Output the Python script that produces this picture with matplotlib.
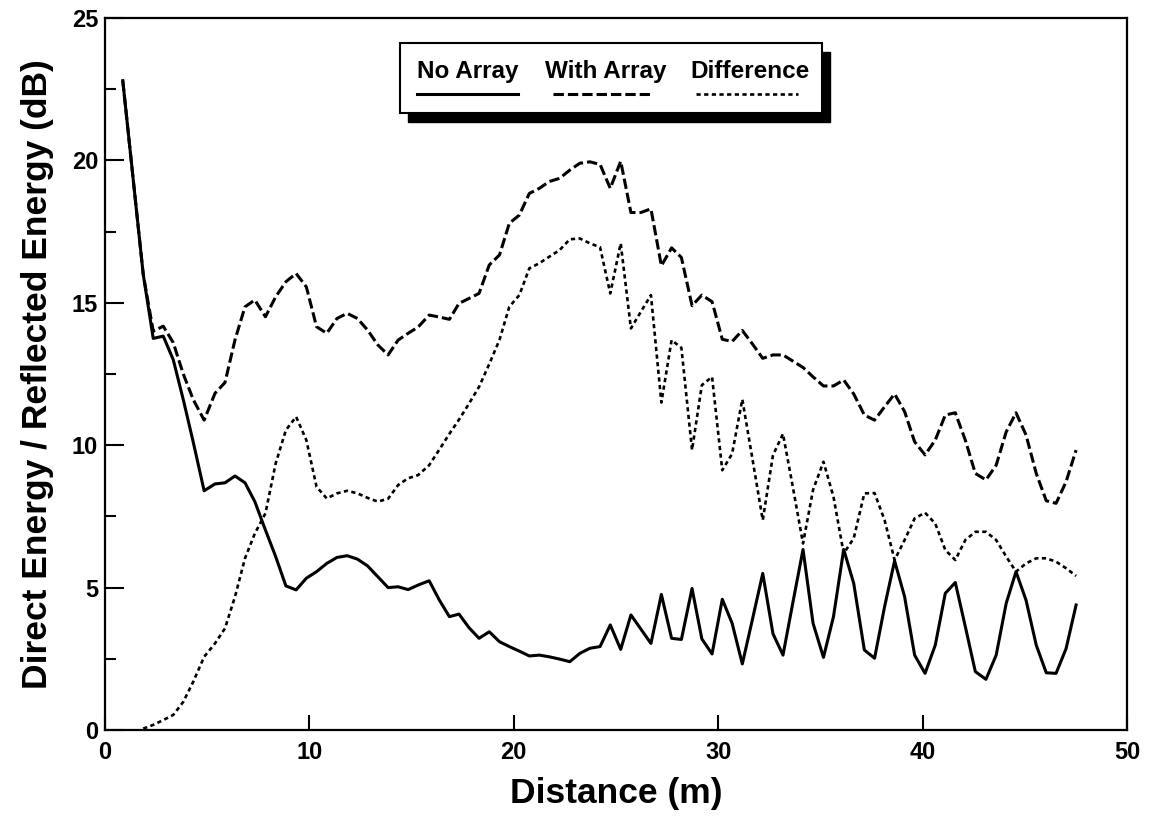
import numpy as np
import matplotlib
matplotlib.use("Agg")
import matplotlib.pyplot as plt
from matplotlib.patches import Rectangle
from matplotlib.lines import Line2D
from matplotlib.ticker import MultipleLocator

# distance from source (m), shared by all three curves
distance = [
    0.87, 1.37, 1.87, 2.36, 2.85, 3.34, 3.83, 4.32, 4.85, 5.38,
    5.87, 6.36, 6.85, 7.33, 7.85, 8.35, 8.85, 9.35, 9.85, 10.35,
    10.85, 11.35, 11.85, 12.35, 12.85, 13.35, 13.85, 14.34, 14.83, 15.32,
    15.86, 16.36, 16.85, 17.32, 17.80, 18.30, 18.80, 19.30, 19.78, 20.27,
    20.76, 21.25, 21.74, 22.24, 22.74, 23.23, 23.72, 24.22, 24.72, 25.23,
    25.73, 26.22, 26.71, 27.22, 27.72, 28.20, 28.72, 29.20, 29.70, 30.20,
    30.68, 31.18, 31.68, 32.18, 32.68, 33.17, 33.66, 34.15, 34.64, 35.15,
    35.64, 36.14, 36.63, 37.15, 37.65, 38.14, 38.63, 39.12, 39.61, 40.12,
    40.62, 41.11, 41.60, 42.09, 42.58, 43.10, 43.60, 44.09, 44.57, 45.06,
    45.56, 46.05, 46.53, 47.02, 47.51,
]

no_array = [
    22.8, 19.4, 16.0, 13.75, 13.83, 13.0, 11.6, 10.1, 8.4, 8.64,
    8.68, 8.92, 8.68, 8.02, 7.02, 6.09, 5.06, 4.92, 5.33, 5.56,
    5.85, 6.06, 6.12, 6.0, 5.76, 5.38, 5.0, 5.03, 4.93, 5.09,
    5.24, 4.56, 3.98, 4.07, 3.6, 3.22, 3.45, 3.1, 2.93, 2.77,
    2.6, 2.63, 2.57, 2.49, 2.4, 2.69, 2.87, 2.93, 3.69, 2.83,
    4.04, 3.54, 3.04, 4.76, 3.22, 3.18, 4.97, 3.2, 2.67, 4.59,
    3.75, 2.32, 3.9, 5.5, 3.38, 2.63, 4.5, 6.34, 3.75, 2.55,
    3.98, 6.34, 5.15, 2.81, 2.52, 4.33, 5.94, 4.68, 2.63, 1.99,
    2.98, 4.8, 5.18, 3.63, 2.05, 1.78, 2.63, 4.45, 5.56, 4.56,
    2.98, 2.01, 1.99, 2.86, 4.39,
]

with_array = [
    22.8, 19.4, 16.0, 14.0, 14.18, 13.6, 12.5, 11.6, 10.88, 11.82,
    12.2, 13.7, 14.86, 15.1, 14.51, 15.21, 15.74, 16.03, 15.56, 14.16,
    13.93, 14.45, 14.63, 14.45, 14.04, 13.52, 13.17, 13.69, 13.93, 14.15,
    14.57, 14.5, 14.42, 14.98, 15.15, 15.33, 16.33, 16.68, 17.79, 18.08,
    18.84, 19.02, 19.26, 19.37, 19.66, 19.9, 19.95, 19.86, 19.02, 19.97,
    18.17, 18.17, 18.3, 16.3, 16.93, 16.59, 14.9, 15.27, 15.04, 13.72,
    13.64, 14.03, 13.55, 13.05, 13.17, 13.17, 12.95, 12.73, 12.4, 12.08,
    12.08, 12.29, 11.8, 11.06, 10.88, 11.35, 11.8, 11.18, 10.12, 9.66,
    10.18, 11.06, 11.14, 10.18, 9.01, 8.78, 9.3, 10.47, 11.14, 10.36,
    9.01, 8.05, 7.96, 8.72, 9.83,
]

difference = [
    np.nan, np.nan, 0.05, 0.18, 0.35, 0.53, 0.99, 1.7, 2.57, 3.04,
    3.57, 4.68, 6.03, 6.9, 7.61, 9.36, 10.53, 11.0, 10.18, 8.54,
    8.13, 8.31, 8.4, 8.31, 8.15, 8.02, 8.12, 8.6, 8.84, 8.95,
    9.3, 9.85, 10.4, 10.9, 11.45, 12.05, 12.85, 13.7, 14.86, 15.27,
    16.21, 16.39, 16.62, 16.85, 17.23, 17.26, 17.09, 16.95, 15.33, 17.09,
    14.1, 14.69, 15.27, 11.5, 13.69, 13.42, 9.83, 12.11, 12.4, 9.12,
    9.7, 11.61, 9.5, 7.37, 9.65, 10.4, 8.5, 6.55, 8.43, 9.42,
    8.19, 6.2, 6.73, 8.31, 8.32, 7.37, 5.97, 6.67, 7.43, 7.63,
    7.25, 6.32, 5.97, 6.67, 6.96, 6.96, 6.67, 6.09, 5.56, 5.85,
    6.03, 6.03, 5.91, 5.68, 5.41,
]

series_labels = ["No Array", "With Array", "Difference"]
x_ticks = [0, 10, 20, 30, 40, 50]
y_ticks = [0, 5, 10, 15, 20, 25]

plt.rcParams["font.family"] = ["Liberation Sans", "DejaVu Sans"]
plt.rcParams["font.weight"] = "bold"

styles = [
    dict(linestyle="-"),
    dict(dashes=(3.4, 1.3)),
    dict(dashes=(1.6, 1.3)),
]
widths = [2.2, 2.2, 1.9]


def draw_legend_box(ax):
    # framed key with a solid drop shadow, placed in axes fractions
    x0, x1 = 0.2886, 0.7016
    y0, y1 = 0.8666, 0.9649
    dx, dy = 0.0078, 0.0126
    ax.add_patch(Rectangle((x0 + dx, y0 - dy), x1 - x0, y1 - y0, transform=ax.transAxes,
                           facecolor="black", edgecolor="black", zorder=5))
    ax.add_patch(Rectangle((x0, y0), x1 - x0, y1 - y0, transform=ax.transAxes,
                           facecolor="white", edgecolor="black", linewidth=1.5, zorder=6))

    text_x = [0.3053, 0.4305, 0.5724]
    line_x = [(0.3053, 0.4041), (0.4384, 0.5362), (0.5783, 0.6781)]
    for label, tx, (la, lb), st, lw in zip(series_labels, text_x, line_x, styles, widths):
        ax.text(tx, 0.916, label, transform=ax.transAxes, fontsize=17.5,
                fontweight="bold", va="baseline", ha="left", zorder=7)
        ax.add_line(Line2D([la, lb], [0.8933, 0.8933], transform=ax.transAxes,
                           color="black", linewidth=lw, zorder=7, **st))


fig = plt.figure(figsize=(11.5, 8.22), dpi=100)
ax = fig.add_axes([0.0913, 0.1119, 0.8887, 0.8662])

for ys, st, lw in zip([no_array, with_array, difference], styles, widths):
    ax.plot(distance, ys, color="black", linewidth=lw, **st)

ax.set_xlim(0, 50)
ax.set_ylim(0, 25)
ax.set_xticks(x_ticks)
ax.set_yticks(y_ticks)
ax.yaxis.set_minor_locator(MultipleLocator(2.5))
ax.tick_params(axis="both", which="both", direction="in", width=1.5,
               labelsize=17, top=False, right=False)
ax.tick_params(axis="y", which="major", length=14, pad=5)
ax.tick_params(axis="y", which="minor", length=8)
ax.tick_params(axis="x", which="major", length=11, pad=8)
for lab in ax.get_xticklabels() + ax.get_yticklabels():
    lab.set_fontweight("bold")
for sp in ax.spines.values():
    sp.set_linewidth(1.6)

ax.set_xlabel("Distance (m)", fontsize=25.5, fontweight="bold", labelpad=9)
ax.set_ylabel("Direct Energy / Reflected Energy (dB)", fontsize=25.5,
              fontweight="bold", labelpad=13)

draw_legend_box(ax)

fig.savefig("out.png", dpi=100)
plt.close(fig)
